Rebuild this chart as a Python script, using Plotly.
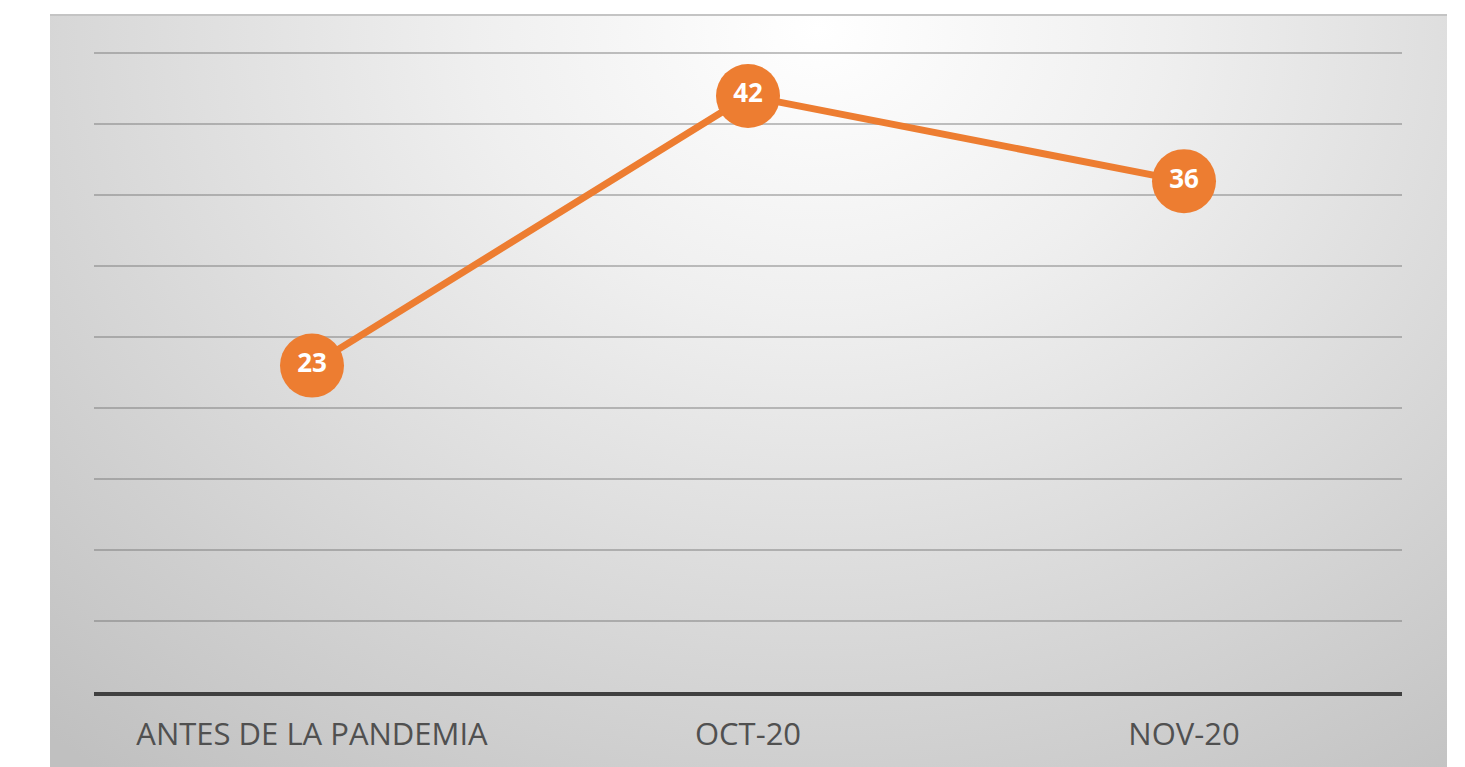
import base64
import plotly.graph_objects as go

categories = ["ANTES DE LA PANDEMIA", "OCT-20", "NOV-20"]
values = [23, 42, 36]

# the page body has an 8px margin, so the figure is laid out in page coords minus 8
OFF = 8
W, H = 1465 - OFF, 767 - OFF
L, R, T, B = 94 - OFF, 1465 - 1402, 52 - OFF, 767 - 692
pw, ph = W - L - R, H - T - B

# panel background (radial gradient) as an SVG image
panel_x0, panel_x1, panel_y0, panel_y1 = 50 - OFF, 1447 - OFF, 14 - OFF, 767 - OFF
pwid, phei = panel_x1 - panel_x0, panel_y1 - panel_y0
svg = f'''<svg xmlns="http://www.w3.org/2000/svg" width="{pwid}" height="{phei}" viewBox="0 0 {pwid} {phei}" preserveAspectRatio="none">
<defs><radialGradient id="g" gradientUnits="userSpaceOnUse" cx="{pwid*0.55}" cy="15" r="1000"
 gradientTransform="translate({pwid*0.55} 15) scale(1.15 0.95) translate({-pwid*0.55} -15)">
<stop offset="0" stop-color="#ffffff"/><stop offset="0.3" stop-color="#efefef"/><stop offset="1" stop-color="#c0c0c0"/></radialGradient></defs>
<rect x="0" y="0" width="{pwid}" height="{phei}" fill="url(#g)"/>
<rect x="0" y="0" width="{pwid}" height="2" fill="#c4c4c4"/>
</svg>'''
src = "data:image/svg+xml;base64," + base64.b64encode(svg.encode()).decode()

fig = go.Figure()
fig.add_trace(go.Scatter(
    x=categories, y=values, mode="lines+markers+text",
    line=dict(color="#ED7D31", width=7),
    marker=dict(size=64, color="#ED7D31", line=dict(width=0)),
    text=[str(v) for v in values], textposition="middle center",
    textfont=dict(color="white", size=26, family="Open Sans", weight="bold"),
    hoverinfo="skip", cliponaxis=False,
))

fig.update_layout(
    width=W, height=H,
    margin=dict(l=L, r=R, t=T, b=B),
    paper_bgcolor="white", plot_bgcolor="rgba(0,0,0,0)",
    showlegend=False,
    images=[dict(source=src, xref="paper", yref="paper",
                 x=(panel_x0 - L) / pw, y=(H - B - panel_y0) / ph,
                 sizex=pwid / pw, sizey=phei / ph,
                 xanchor="left", yanchor="top", sizing="stretch", layer="below")],
    xaxis=dict(type="category", range=[-0.5, 2.5], showgrid=False, zeroline=False,
               showline=True, linecolor="#404040", linewidth=4,
               ticks="", ticklabelstandoff=12,
               tickfont=dict(family="Open Sans", size=31, color="#505050")),
    yaxis=dict(range=[0, 45.1], dtick=5, showticklabels=False, zeroline=False,
               showgrid=True, gridcolor="rgba(110,110,110,0.42)", gridwidth=2,
               showline=False),
)

fig.write_html("out.html")
